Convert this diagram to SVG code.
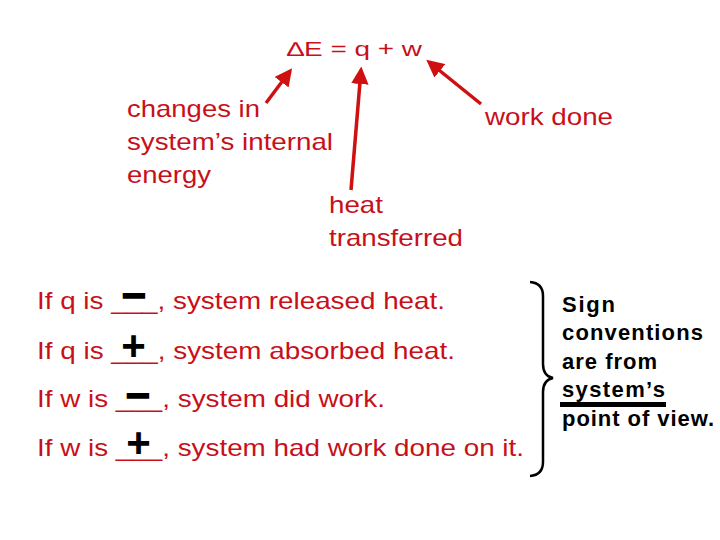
<svg xmlns="http://www.w3.org/2000/svg" width="720" height="540" viewBox="0 0 720 540">
<style>
.r{font-family:"Liberation Sans",Arial,sans-serif;font-size:24px;fill:#c8101a}
.t{font-family:"Liberation Sans",Arial,sans-serif;font-size:20px;fill:#c8101a}
.s{font-family:"Liberation Sans",Arial,sans-serif;font-weight:bold;fill:#000}
.m{stroke:#000;stroke-width:1.6}
.b{font-family:"Liberation Sans",Arial,sans-serif;font-weight:bold;font-size:22px;fill:#000}
.a{stroke:#d01010;stroke-width:3.5;fill:none;marker-end:url(#ah)}
</style>
<defs>
<marker id="ah" viewBox="0 0 10 10" refX="8" refY="5" markerWidth="5" markerHeight="5" orient="auto" markerUnits="strokeWidth">
<path d="M0,0 L10,5 L0,10 z" fill="#d01010"/>
</marker>
</defs>
<rect width="720" height="540" fill="#fff"/>
<g id="equation"><text class="t" x="287" y="56" textLength="135" lengthAdjust="spacingAndGlyphs">∆E = q + w</text></g>
<g id="internal-energy">
<text class="r" x="127" y="117" textLength="133" lengthAdjust="spacingAndGlyphs">changes in</text>
<text class="r" x="127" y="150" textLength="206" lengthAdjust="spacingAndGlyphs">system’s internal</text>
<text class="r" x="127" y="183" textLength="84" lengthAdjust="spacingAndGlyphs">energy</text>
</g>
<g id="heat">
<text class="r" x="329" y="213" textLength="54" lengthAdjust="spacingAndGlyphs">heat</text>
<text class="r" x="329" y="246" textLength="134" lengthAdjust="spacingAndGlyphs">transferred</text>
</g>
<g id="work"><text class="r" x="485" y="125" textLength="128" lengthAdjust="spacingAndGlyphs">work done</text></g>
<g id="connectors">
<line class="a" x1="266" y1="103" x2="290" y2="71"/>
<line class="a" x1="351" y1="190" x2="361" y2="70"/>
<line class="a" x1="481" y1="104" x2="429" y2="62"/>
</g>
<g id="rules">
<text class="r" x="37" y="309" textLength="408" lengthAdjust="spacingAndGlyphs">If q is ___, system released heat.</text>
<text class="r" x="37" y="359" textLength="418" lengthAdjust="spacingAndGlyphs">If q is ___, system absorbed heat.</text>
<text class="r" x="37" y="407" textLength="348" lengthAdjust="spacingAndGlyphs">If w is ___, system did work.</text>
<text class="r" x="37" y="456" textLength="487" lengthAdjust="spacingAndGlyphs">If w is ___, system had work done on it.</text>
<text class="s m" x="134" y="307" font-size="42" text-anchor="middle">–</text>
<text class="s" x="133.5" y="360" font-size="42" text-anchor="middle">+</text>
<text class="s m" x="138" y="406.5" font-size="42" text-anchor="middle">–</text>
<text class="s" x="138.5" y="457" font-size="42" text-anchor="middle">+</text>
</g>
<g id="brace">
<path d="M530,282 Q543,283 543,296 L543,364 Q543,376 553,378 Q543,380 543,392 L543,462 Q543,475 530,476" fill="none" stroke="#000" stroke-width="2.5"/>
</g>
<g id="note">
<text class="b" x="562" y="312" textLength="53" lengthAdjust="spacing">Sign</text>
<text class="b" x="562" y="340" textLength="141" lengthAdjust="spacing">conventions</text>
<text class="b" x="562" y="369" textLength="95" lengthAdjust="spacing">are from</text>
<text class="b" x="562" y="397" textLength="103" lengthAdjust="spacing">system’s</text>
<line x1="560" y1="404.5" x2="666" y2="404.5" stroke="#000" stroke-width="5"/>
<text class="b" x="562" y="426" textLength="152" lengthAdjust="spacing">point of view.</text>
</g>
</svg>
